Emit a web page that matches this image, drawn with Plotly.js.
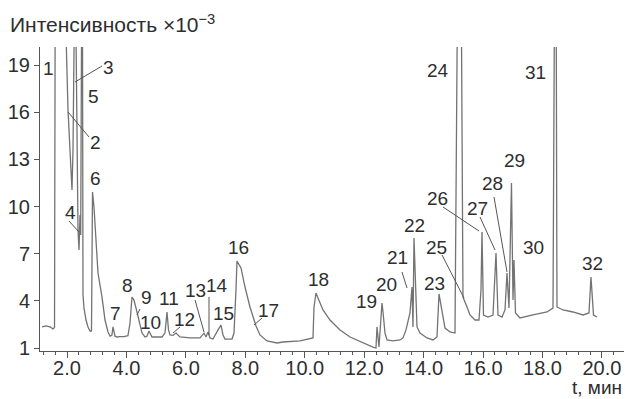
<!DOCTYPE html>
<html>
<head>
<meta charset="utf-8">
<script src="https://cdn.plot.ly/plotly-3.0.1.min.js"></script>
<style>html,body{margin:0;padding:0;background:#fff;}#chart{width:625px;height:399px;}</style>
</head>
<body>
<div id="chart"></div>
<script>
// Retention time, min
const time = [
1.16,1.29,1.43,1.53,1.58,1.61,1.95,1.966,2.034,2.135,2.168,2.202,2.236,2.26,2.29,2.303,2.336,2.37,2.404,2.437,
2.461,2.488,2.50,2.51,2.522,2.538,2.572,2.639,2.707,2.774,2.824,2.858,2.908,2.976,3.043,3.178,3.279,3.38,3.45,3.51,
3.548,3.615,3.682,3.78,3.92,4.05,4.12,4.187,4.254,4.355,4.423,4.524,4.624,4.692,4.759,4.86,5.03,5.197,5.297,5.365,
5.415,5.466,5.567,5.668,5.802,6.139,6.475,6.61,6.677,6.744,6.812,6.913,7.081,7.182,7.249,7.316,7.552,7.619,7.686,7.72,
7.855,7.989,8.157,8.326,8.359,8.494,8.729,9.066,9.268,9.84,10.176,10.277,10.311,10.378,10.445,10.614,10.849,11.186,11.522,11.96,
12.296,12.397,12.431,12.498,12.599,12.633,12.70,12.767,12.969,13.205,13.306,13.406,13.541,13.608,13.642,13.676,13.743,13.777,13.878,14.113,
14.315,14.45,14.517,14.618,14.719,14.887,15.055,15.13,15.15,15.26,15.274,15.324,15.459,15.56,15.728,15.863,15.93,15.964,16.014,16.166,
16.334,16.435,16.502,16.637,16.738,16.805,16.872,16.956,17.007,17.04,17.091,17.242,17.68,18.151,18.353,18.40,18.42,18.45,18.47,18.487,
18.689,19.026,19.362,19.564,19.631,19.682,19.716,19.833
];
// Intensity x10^-3 (values above the axis top are off-scale peaks)
const intensity = [
2.34,2.40,2.34,2.21,2.30,30,30,21,16.14,12.01,11.05,13.60,21,30,30,21,13.60,8.51,7.23,9.46,
8.19,21,30,30,21,4.37,3.54,2.78,2.34,2.08,2.08,10.92,9.97,7.42,5.77,4.24,2.78,2.02,1.75,1.80,
2.34,1.75,1.70,1.72,1.72,1.78,2.59,4.24,4.05,3.29,2.78,1.95,1.70,1.75,2.08,1.70,1.70,1.70,1.95,3.29,
2.15,1.83,1.80,1.95,1.70,1.64,1.64,1.95,1.70,2.02,1.64,1.57,2.15,2.46,1.83,1.57,1.57,1.95,4.69,6.53,
6.09,4.88,3.61,2.59,2.40,1.83,1.45,1.32,1.38,1.45,1.57,1.64,3.61,4.50,4.18,3.42,2.78,2.15,1.70,1.32,
1.06,1.00,2.34,1.06,3.86,3.29,1.95,1.51,1.45,1.51,1.64,2.15,3.23,4.88,2.34,8.00,3.61,2.34,1.95,1.64,
1.51,1.70,4.44,3.23,2.27,2.02,1.95,21,30,30,21,4.24,3.61,3.10,2.78,2.78,4.69,8.38,3.10,2.97,
3.10,7.04,3.10,2.97,3.42,5.77,3.54,11.50,4.05,6.60,3.23,2.91,3.10,3.29,3.54,21,30,30,21,3.61,
3.42,3.29,3.10,3.23,5.52,3.80,3.10,2.97
];
const yTicks = [1,4,7,10,13,16,19];
const xTicks = [2,4,6,8,10,12,14,16,18,20];
const xTickText = ["2.0","4.0","6.0","8.0","10.0","12.0","14.0","16.0","18.0","20.0"];
const peakNames = ["1","2","3","4","5","6","7","8","9","10","11","12","13","14","15","16","17","18","19","20","21","22","23","24","25","26","27","28","29","30","31","32"];

// layout geometry (pixels)
const L=40, R=624, T=47, B=351;
const xr=[1.0915,20.742], yr=[0.809,20.148];
const px2t = p => xr[0] + (p-L)/(R-L)*(xr[1]-xr[0]);
const py2v = p => yr[0] + (B-p)/(B-T)*(yr[1]-yr[0]);

// label text positions (pixel centres) in the order of peakNames
const labelPos = [[48,68],[95,142],[108,67],[70,212],[93,96],[95,178],[115,313],[127,285],[146,297],[150,322],
[169,298],[184,319],[195,290],[217,285],[223,313],[238,247],[268,310],[318,279],[366,301],[386,284],
[397,257],[414,225],[434,283],[438,70],[436,247],[437,198],[477,208],[492,183],[514,160],[533,247],
[535,72],[592,263]];
const leaders = [[75,82,102,66],[68,112,89,137],[69,221,79,232],[140,309,137,315],[180,327,173,333],
[195,300,204,332],[209,297,209,335],[262,318,254,325],[402,272,407,288],[442,255,464,298],
[443,207,479,231],[480,217,495,250],[494,197,507,272]];

const txtColor = '#2e2e2e';
const fam = '"Liberation Sans", Arial, sans-serif';
const annotations = peakNames.map((n,i)=>({
  x: px2t(labelPos[i][0]), y: py2v(labelPos[i][1]), xref:'x', yref:'y', text:n, showarrow:false,
  xanchor:'center', yanchor:'middle', font:{size:19, color:txtColor, family:fam}
}));
annotations.push({x:1, y:(B-387)/(B-T), xref:'paper', yref:'paper', xanchor:'right', yanchor:'middle',
  text:'t, мин', showarrow:false, font:{size:19, color:txtColor, family:fam}});
const shapes = leaders.map(l=>({type:'line', xref:'x', yref:'y', x0:px2t(l[0]), y0:py2v(l[1]), x1:px2t(l[2]), y1:py2v(l[3]),
  line:{color:'#555', width:1}}));

const trace = {x: time, y: intensity, type:'scatter', mode:'lines', line:{color:'#737373', width:1.3}, hoverinfo:'skip'};

const layout = {
  width:625, height:399, margin:{l:L, r:625-R, t:T, b:399-B}, paper_bgcolor:'#fff', plot_bgcolor:'#fff',
  showlegend:false,
  title:{text:'Интенсивность ×10<sup>−3</sup>', xref:'container', yref:'container', x:10/625, xanchor:'left',
    y:1-25/399, yanchor:'middle', font:{size:21, color:txtColor, family:fam}},
  xaxis:{range:xr, showgrid:false, zeroline:false, showline:true, linecolor:'#555', linewidth:1,
    ticks:'outside', ticklen:6, tickcolor:'#555', tickvals:xTicks, ticktext:xTickText, ticklabelstandoff:-7,
    tickfont:{size:20, color:txtColor, family:fam},
    minor:{dtick:0.4, tick0:2, ticks:'outside', ticklen:3, tickcolor:'#555', showgrid:false}},
  yaxis:{range:yr, showgrid:false, zeroline:false, showline:true, linecolor:'#555', linewidth:1,
    ticks:'outside', ticklen:5, tickcolor:'#555', tickvals:yTicks,
    tickfont:{size:20, color:txtColor, family:fam}},
  annotations: annotations, shapes: shapes
};
Plotly.newPlot('chart',[trace],layout,{staticPlot:true});
</script>
</body>
</html>
